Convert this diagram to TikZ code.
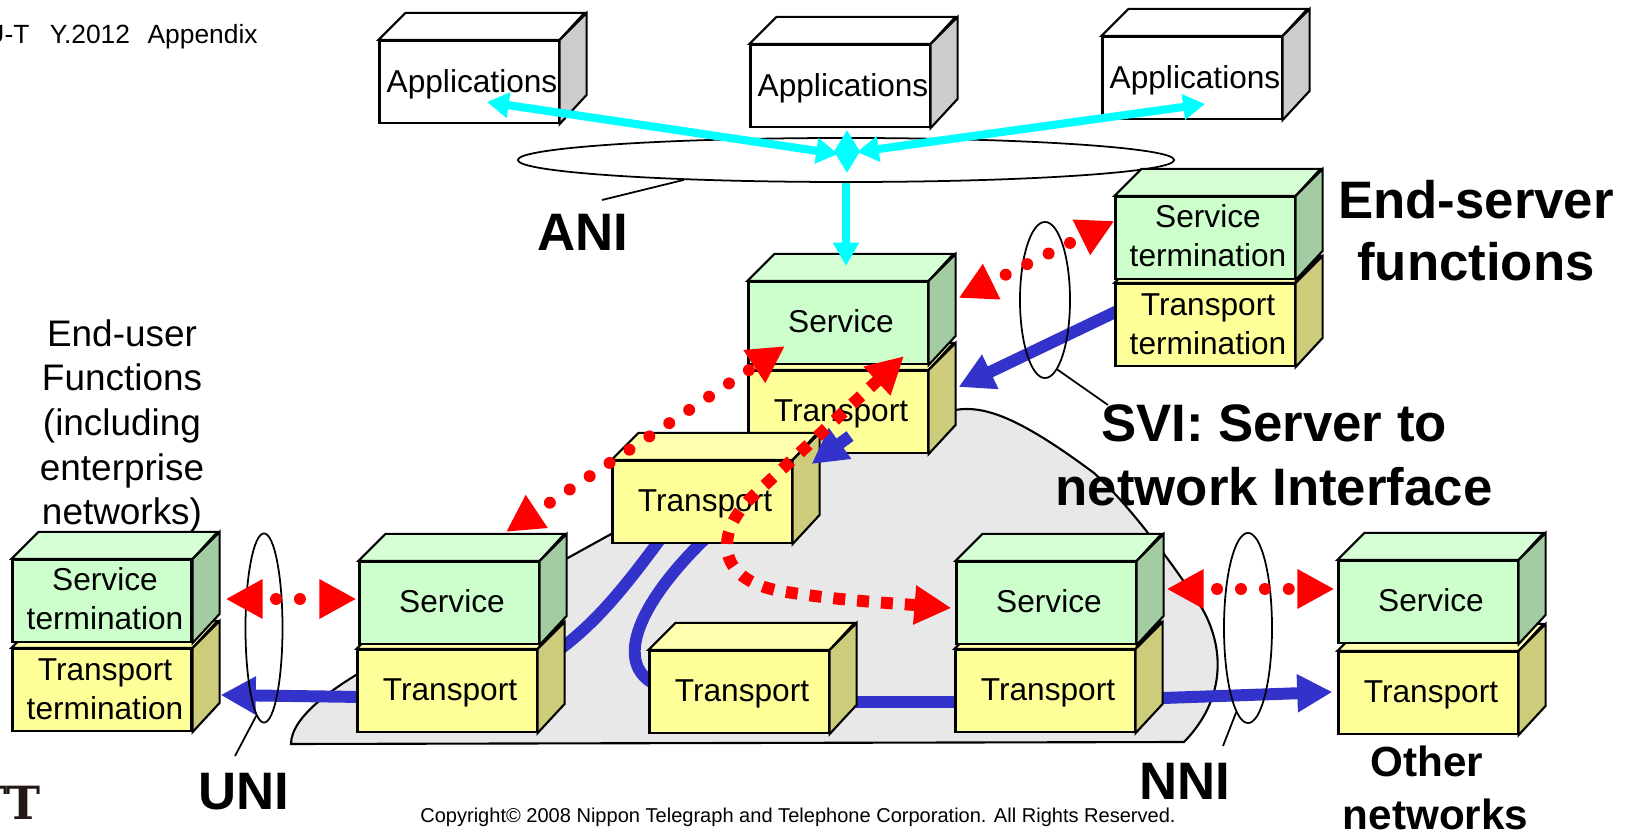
\documentclass[tikz,border=0pt]{standalone}
\usepackage{fontspec}
\setmainfont{Liberation Sans}
\newfontfamily\logofont{DejaVu Serif}
\usetikzlibrary{arrows.meta,backgrounds,calc,shapes.geometric}
\definecolor{svcfront}{HTML}{CCFFCC}
\definecolor{svctop}{HTML}{D6FFD6}
\definecolor{svcside}{HTML}{A3CCA3}
\definecolor{trpfront}{HTML}{FFFF99}
\definecolor{trptop}{HTML}{FFFFAD}
\definecolor{trpside}{HTML}{CCCC7A}
\definecolor{appside}{HTML}{CCCCCC}
\definecolor{cloudgray}{HTML}{E8E8E8}
\definecolor{linkblue}{HTML}{3333CC}
\definecolor{linkcyan}{HTML}{00FFFF}
\definecolor{linkred}{HTML}{FF0000}
\definecolor{logodark}{HTML}{231815}
\tikzset{
  cubebox/.style={draw,line width=0.6pt,minimum width=1.79cm,minimum height=0.82cm,inner sep=0pt},
  cubelabel/.style={inner sep=0pt,align=center,font=\fontsize{9}{11}\selectfont},
  ring/.style={draw,ellipse,line width=0.5pt,inner sep=0pt},
  leader/.style={line width=0.5pt},
  bigtext/.style={align=center,font=\fontsize{15}{17.6}\bfseries\selectfont},
  bluelink/.style={draw=linkblue,line width=3.4pt},
  bluearrow/.style={bluelink,-{Triangle[length=10pt,width=10.2pt]}},
  cyanlink/.style={draw=linkcyan,line width=2.3pt,-{Triangle[length=6.6pt,width=7pt]}},
  cyanarrow/.style={draw=linkcyan,line width=2.3pt,{Triangle[length=6.2pt,width=7pt]}-{Triangle[length=6.2pt,width=7pt]}},
  reddots/.style={draw=linkred,line width=3.4pt,line cap=round,dash pattern=on 0pt off 6.8pt,
    {Triangle[length=10.5pt,width=10.5pt]}-{Triangle[length=10.5pt,width=10.5pt]}},
  redsquares/.style={draw=linkred,line width=3.4pt,dash pattern=on 3.4pt off 3.4pt,
    {Triangle[length=10.5pt,width=10.5pt]}-{Triangle[length=10.5pt,width=10.5pt]}},
}
% name, position, front, top, side, label, label drop
\newcommand{\cuboid}[7]{%
  \node[cubebox,fill=#3] (#1) at (#2) {};
  \draw[line width=0.6pt,fill=#4] (#1.north west) -- ++(27,-27) -- ++(179,0) -- (#1.north east) -- cycle;
  \draw[line width=0.6pt,fill=#5] (#1.north east) -- ++(27,-27) -- ++(0,82) -- (#1.south east) -- cycle;
  \node[cubelabel] (#1label) at ($(#1.center)+(3,#7)$) {#6};
}
\newcommand{\servicebox}[3]{\cuboid{#1}{#2}{svcfront}{svctop}{svcside}{#3}{-2}}
\newcommand{\transportbox}[3]{\cuboid{#1}{#2}{trpfront}{trptop}{trpside}{#3}{2}}
\newcommand{\terminationbox}[3]{\cuboid{#1}{#2}{trpfront}{trptop}{trpside}{#3}{-1}}
\newcommand{\appbox}[2]{\cuboid{#1}{#2}{white}{white}{appside}{Applications}{2}}

\begin{document}
\begin{tikzpicture}[x=0.01cm,y=-0.01cm]
\useasboundingbox (0,0) rectangle (1630,831);

% -------- applications and ANI
\node[ring,minimum width=6.56cm,minimum height=0.44cm] (ani) at (846,160) {};
\appbox{appa}{469,82}
\appbox{appb}{840,86}
\appbox{appc}{1192,78}

% -------- end server
\terminationbox{endtrp}{1205,325}{Transport\\termination}
\servicebox{endsvc}{1205,238}{Service\\termination}

% -------- network core
\transportbox{coretrp}{838,412}{Transport}
\servicebox{coresvc}{838,323}{Service}
\transportbox{midtrp}{702,502}{Transport}
\transportbox{lowtrp}{739,692}{Transport}
\transportbox{righttrp}{1045,691}{Transport}
\servicebox{rightsvc}{1046,603}{Service}
\transportbox{lefttrp}{447,691}{Transport}
\servicebox{leftsvc}{449,603}{Service}

% -------- end user and other networks
\terminationbox{usertrp}{102,690}{Transport\\termination}
\servicebox{usersvc}{102,601}{Service\\termination}
\transportbox{othertrp}{1428,693}{Transport}
\servicebox{othersvc}{1428,602}{Service}

% -------- cloud and blue links behind the boxes
\begin{scope}[on background layer]
\draw[line width=0.6pt,fill=cloudgray] (291,744) .. controls (291,715) and (340,685) .. (356,675)
  -- (613,533) -- (640,500) -- (780,420) -- (955,410)
  .. controls (985,405) and (1020,418) .. (1094,473)
  .. controls (1140,515) and (1190,590) .. (1203,610)
  .. controls (1225,650) and (1225,700) .. (1184,742) -- cycle;
\draw[bluelink] ($(midtrp.south)+(-38,-10)$) .. controls (630,580) and (600,620) .. ($(lefttrp.east)+(20,-40)$);
\draw[bluelink] ($(midtrp.south)+(8,-10)$) .. controls (640,600) and (610,665) .. ($(lowtrp.west)+(10,-6)$);
\draw[bluelink] ($(lowtrp.east)+(0,10)$) -- ($(righttrp.west)+(0,11)$);
\draw[bluearrow] ($(righttrp.east)+(0,8)$) -- ($(othertrp.west)+(-5,-1)$);
\draw[bluearrow] ($(lefttrp.west)+(5,6)$) -- ($(usertrp.east)+(28,5)$);
\draw[bluearrow] ($(endtrp.west)+(3,-14)$) -- ($(coretrp.east)+(30,-25)$);
\end{scope}

% -------- rings and their labels
\node[ring,minimum width=0.37cm,minimum height=1.89cm] (uni) at (264,628) {};
\node[ring,minimum width=0.48cm,minimum height=1.90cm] (nni) at (1248,628) {};
\node[ring,minimum width=0.50cm,minimum height=1.56cm] (svi) at (1045,300) {};
\node[bigtext] (anilabel) at (583,232) {ANI};
\node[bigtext] (unilabel) at (244,792) {UNI};
\node[bigtext] (nnilabel) at (1185,781) {NNI};
\node[bigtext,font=\fontsize{15}{18.2}\bfseries\selectfont] (svilabel) at (1274,455) {SVI: Server to\\network Interface};
\node[bigtext] (endlabel) at (1476,231) {End-server\\functions};
\node[align=center,font=\fontsize{12}{15}\bfseries\selectfont] (otherlabel) at (1435.5,788) {Other\hspace*{4.9pt}\\networks};
\node[align=center,font=\fontsize{10.5}{12.7}\selectfont] (userlabel) at (122,426) {End-user\\Functions\\(including\\enterprise\\networks)};
\node[anchor=east,font=\fontsize{7.5}{9}\selectfont] (doclabel) at (270,37) {ITU-T\hspace{5.8pt}Y.2012\hspace{5pt}Appendix};
\node[font=\fontsize{5.7}{7}\selectfont] (copyright) at (798,817) {Copyright© 2008 Nippon Telegraph and Telephone Corporation. All Rights Reserved.};
\node[anchor=east,inner sep=0pt,text=logodark,font=\fontsize{13}{15}\bfseries\logofont] (logo) at (41,803) {NTT};
\draw[leader] (ani.187) -- (602,200);
\draw[leader] (uni.265) -- (235,756);
\draw[leader] (nni.262) -- (1223,746);
\draw[leader] (svi.280) -- (1108,405);

% -------- application links
\draw[cyanarrow] ($(ani.center)+(1,-30)$) -- ($(ani.center)+(1,13)$);
\draw[cyanarrow] ($(appa.center)+(18,20)$) -- ($(ani.center)+(-8,-6)$);
\draw[cyanarrow] ($(appc.center)+(13,26)$) -- ($(ani.center)+(11,-8)$);
\draw[cyanlink] (ani.south) -- ($(coresvc.north)+(8,-15)$);
\draw[bluearrow] ($(coretrp.south)+(12,-18)$) -- ($(midtrp.east)+(19,-38)$);

% -------- red peer links
\draw[reddots,dash phase=2.3pt] ($(usersvc.east)+(33,-2)$) -- ($(leftsvc.west)+(-2,-4)$);
\draw[reddots,dash phase=2.3pt] ($(rightsvc.east)+(30,-14)$) -- ($(othersvc.west)+(-3,-13)$);
\draw[reddots,dash phase=1.7pt] ($(coresvc.east)+(30,-25)$) -- ($(endsvc.west)+(0,-17)$);
\draw[reddots,dash phase=4.3pt] ($(coresvc.south)+(-53,-19)$) -- ($(leftsvc.north)+(57,-29)$);
\draw[redsquares] ($(coresvc.south)+(66,-9)$) -- (752,497) .. controls (720,527) and (710,575) .. (775,590)
  .. controls (830,600) and (890,603) .. ($(rightsvc.west)+(-4,5)$);
\end{tikzpicture}
\end{document}
